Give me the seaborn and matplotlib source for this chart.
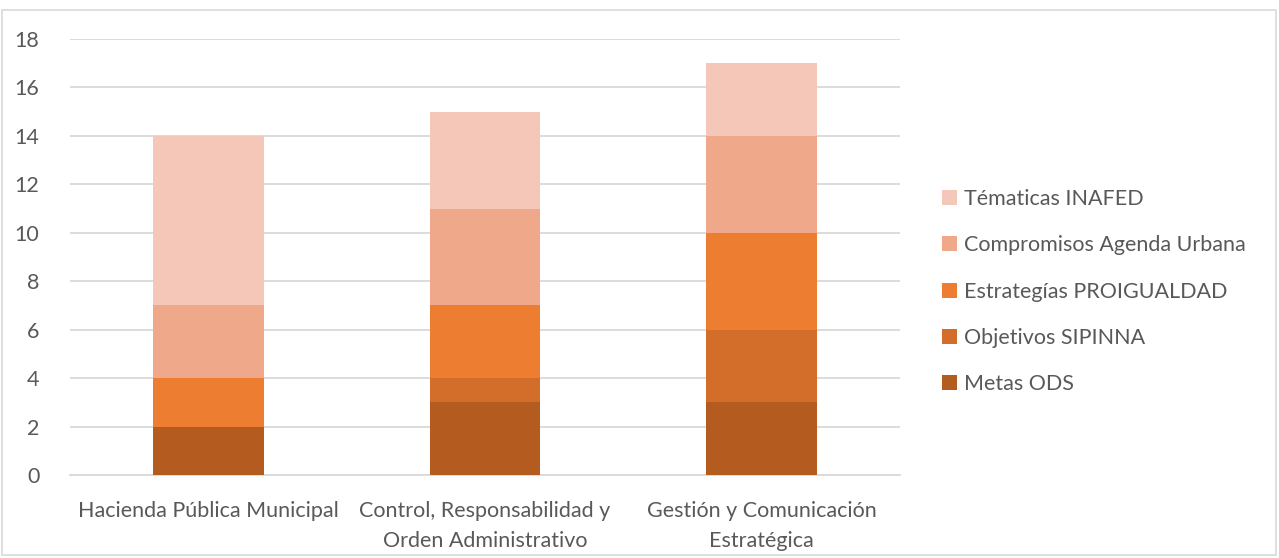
import pandas as pd
import matplotlib.pyplot as plt
import seaborn as sns
from matplotlib.patches import Rectangle

# categories (x axis)
categories = ['Hacienda Pública Municipal',
              'Control, Responsabilidad y\nOrden Administrativo',
              'Gestión y Comunicación\nEstratégica']

# stacked series, bottom to top
metas_ods = [2, 3, 3]
objetivos_sipinna = [0, 1, 3]
estrategias_proigualdad = [2, 3, 4]
compromisos_agenda = [3, 4, 4]
tematicas_inafed = [7, 4, 3]

series_names = ['Metas ODS', 'Objetivos SIPINNA', 'Estrategías PROIGUALDAD',
                'Compromisos Agenda Urbana', 'Tématicas INAFED']
series_values = [metas_ods, objetivos_sipinna, estrategias_proigualdad,
                 compromisos_agenda, tematicas_inafed]
colors = ['#B45B20', '#D26E2A', '#ED7D31', '#F0A88A', '#F5C7B8']

df = pd.DataFrame(dict(zip(series_names, series_values)), index=categories)
cum = df.cumsum(axis=1)

sns.set_style('white')
plt.rcParams['font.family'] = ['Lato', 'DejaVu Sans']

fig = plt.figure(figsize=(12.79, 5.58), dpi=100)
ax = fig.add_axes([70 / 1279, 83 / 558, 830 / 1279, 436 / 558])

# draw tallest cumulative layer first so lower layers sit on top
for name, col in reversed(list(zip(series_names, colors))):
    sns.barplot(x=cum.index, y=cum[name].values, color=col, width=0.4,
                saturation=1, label=name, ax=ax, zorder=3, linewidth=0)

ax.set_ylim(0, 18)
ax.set_yticks(range(0, 19, 2))
ax.set_xlim(-0.5, 2.5)
ax.grid(axis='y', color='#D9D9D9', linewidth=1.3, zorder=0)
ax.set_axisbelow(True)
for s in ['top', 'right', 'left']:
    ax.spines[s].set_visible(False)
ax.spines['bottom'].set_color('#D9D9D9')
ax.spines['bottom'].set_linewidth(1.3)
ax.tick_params(axis='both', length=0, labelsize=15.5, labelcolor='#595959')
ax.tick_params(axis='y', pad=22)
ax.tick_params(axis='x', pad=19)
for lab in ax.get_xticklabels():
    lab.set_linespacing(1.6)
ax.set_xlabel('')
ax.set_ylabel('')

leg = ax.legend(loc='upper left', bbox_to_anchor=(1.027, 0.70), frameon=False,
                fontsize=15.5, labelcolor='#595959', handlelength=0.7,
                handleheight=0.7, handletextpad=0.35, labelspacing=1.22)

# outer chart border
fig.add_artist(Rectangle((2 / 1279, 3 / 558), 1274 / 1279, 545 / 558,
                         transform=fig.transFigure, fill=False,
                         edgecolor='#D9D9D9', linewidth=1.2))

plt.savefig('out.png', dpi=100)
